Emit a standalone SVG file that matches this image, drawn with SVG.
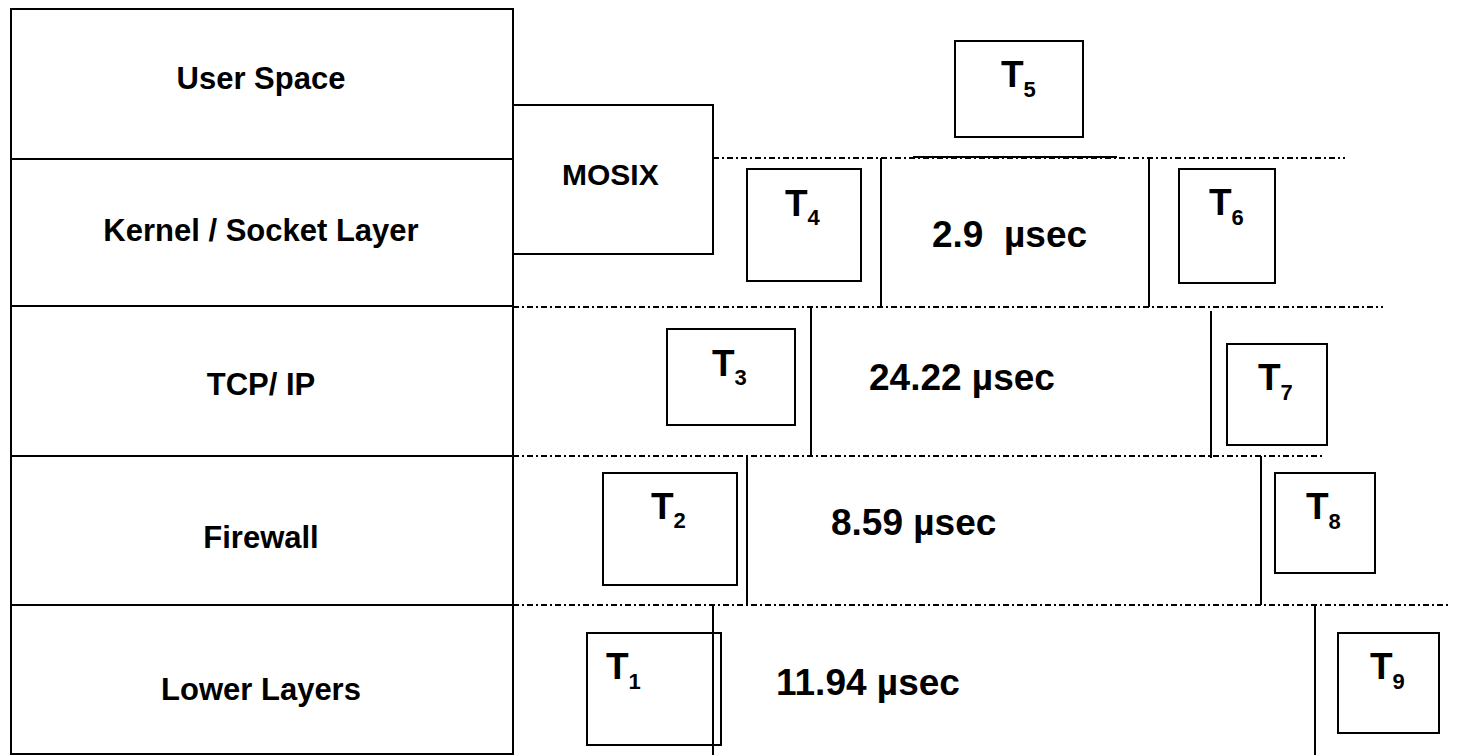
<svg xmlns="http://www.w3.org/2000/svg" width="1483" height="755" viewBox="0 0 1483 755">
  <style>
    .box { fill: #fff; stroke: #000; stroke-width: 2; }
    .div { stroke: #000; stroke-width: 2; fill: none; }
    .dd { stroke: #000; stroke-width: 1.8; fill: none; stroke-dasharray: 6 3 2 3; }
    .vl { stroke: #000; stroke-width: 2; fill: none; }
    text { font-family: "Liberation Sans", Arial, sans-serif; font-weight: bold; fill: #000; }
    .lbl { font-size: 31px; text-anchor: middle; }
    .t { font-size: 37px; }
    .sub { font-size: 22px; }
    .num { font-size: 37px; }
  </style>
  <rect width="1483" height="755" fill="#fff"/>

  <!-- layer stack on the left -->
  <g id="layers">
    <rect class="box" x="11" y="9" width="502" height="745"/>
    <line class="div" x1="11" y1="159" x2="513" y2="159"/>
    <line class="div" x1="11" y1="306" x2="513" y2="306"/>
    <line class="div" x1="11" y1="456" x2="513" y2="456"/>
    <line class="div" x1="11" y1="605" x2="513" y2="605"/>
    <text class="lbl" x="261" y="89">User Space</text>
    <text class="lbl" x="261" y="241">Kernel / Socket Layer</text>
    <text class="lbl" x="261" y="395">TCP/ IP</text>
    <text class="lbl" x="261" y="548">Firewall</text>
    <text class="lbl" x="261" y="700">Lower Layers</text>
  </g>

  <!-- layer boundaries and timing separators -->
  <g id="connectors">
    <line class="dd" x1="713" y1="158" x2="1345" y2="158"/>
    <line stroke="#000" stroke-width="1.8" x1="913" y1="157" x2="1117" y2="157"/>
    <line class="dd" x1="513" y1="307" x2="1383" y2="307"/>
    <line class="dd" x1="513" y1="456" x2="1323" y2="456"/>
    <line class="dd" x1="513" y1="605" x2="1451" y2="605"/>

    <line class="vl" x1="881" y1="158" x2="881" y2="307"/>
    <line class="vl" x1="1149" y1="157" x2="1149" y2="307"/>
    <line class="vl" x1="811" y1="307" x2="811" y2="456"/>
    <line class="vl" x1="1211" y1="311" x2="1211" y2="458"/>
    <line class="vl" x1="747" y1="456" x2="747" y2="605"/>
    <line class="vl" x1="1261" y1="456" x2="1261" y2="605"/>
    <line class="vl" x1="713" y1="605" x2="713" y2="755"/>
    <line class="vl" x1="1315" y1="605" x2="1315" y2="755"/>
  </g>

  <g id="mosix">
    <rect class="box" x="513" y="105" width="200" height="149"/>
    <text x="562" y="185" style="font-size:30px">MOSIX</text>
  </g>

  <g id="t1">
    <rect class="box" x="587" y="633" width="134" height="112" style="fill:none"/>
    <text class="t" x="606" y="679">T<tspan class="sub" dy="10">1</tspan></text>
  </g>
  <g id="t2">
    <rect class="box" x="603" y="473" width="134" height="112"/>
    <text class="t" x="651" y="519">T<tspan class="sub" dy="9">2</tspan></text>
  </g>
  <g id="t3">
    <rect class="box" x="667" y="329" width="128" height="96"/>
    <text class="t" x="712" y="376">T<tspan class="sub" dy="9">3</tspan></text>
  </g>
  <g id="t4">
    <rect class="box" x="747" y="169" width="114" height="112"/>
    <text class="t" x="785" y="216">T<tspan class="sub" dy="9">4</tspan></text>
  </g>
  <g id="t5">
    <rect class="box" x="955" y="41" width="128" height="96"/>
    <text class="t" x="1001" y="87">T<tspan class="sub" dy="10">5</tspan></text>
  </g>
  <g id="t6">
    <rect class="box" x="1179" y="169" width="96" height="114"/>
    <text class="t" x="1209" y="215">T<tspan class="sub" dy="10">6</tspan></text>
  </g>
  <g id="t7">
    <rect class="box" x="1227" y="344" width="100" height="101"/>
    <text class="t" x="1258" y="390">T<tspan class="sub" dy="10">7</tspan></text>
  </g>
  <g id="t8">
    <rect class="box" x="1275" y="473" width="100" height="100"/>
    <text class="t" x="1306" y="519">T<tspan class="sub" dy="10">8</tspan></text>
  </g>
  <g id="t9">
    <rect class="box" x="1338" y="633" width="101" height="100"/>
    <text class="t" x="1370" y="679">T<tspan class="sub" dy="10">9</tspan></text>
  </g>

  <!-- per-layer processing times -->
  <g id="times">
    <text class="num" x="932" y="247" xml:space="preserve">2.9  µsec</text>
    <text class="num" x="869" y="390">24.22 µsec</text>
    <text class="num" x="831" y="535">8.59 µsec</text>
    <text class="num" x="776" y="695">11.94 µsec</text>
  </g>
</svg>
